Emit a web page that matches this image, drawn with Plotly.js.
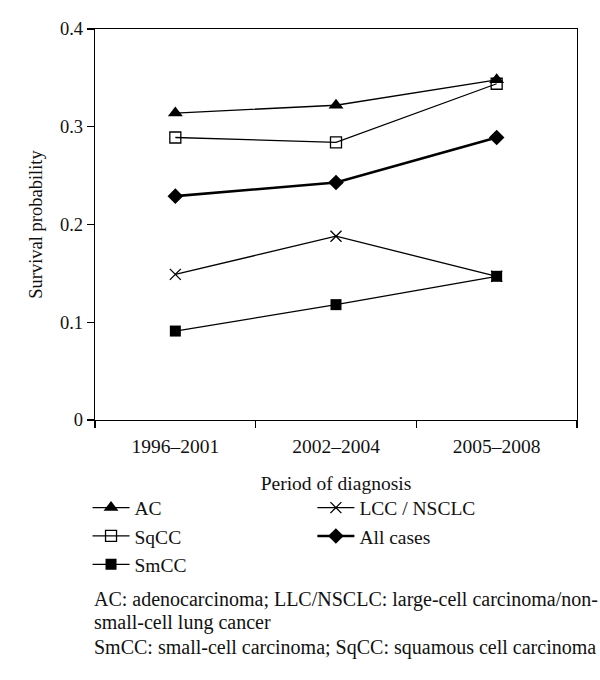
<!DOCTYPE html>
<html>
<head>
<meta charset="utf-8">
<script src="https://cdn.plot.ly/plotly-3.0.1.min.js"></script>
<style>html,body{margin:0;padding:0;background:#fff;}#chart{width:600px;height:680px;}</style>
</head>
<body>
<div id="chart"></div>
<script>
var periods = ["1996\u20132001", "2002\u20132004", "2005\u20132008"];
var acValues = [0.314, 0.322, 0.348];
var sqccValues = [0.289, 0.284, 0.344];
var smccValues = [0.091, 0.118, 0.147];
var lccValues = [0.149, 0.188, 0.147];
var allValues = [0.229, 0.243, 0.289];
var yTickVals = [0, 0.1, 0.2, 0.3, 0.4];
var yTickText = ["0", "0.1", "0.2", "0.3", "0.4"];
var footnotes = [
  "AC: adenocarcinoma; LLC/NSCLC: large-cell carcinoma/non-",
  "small-cell lung cancer",
  "SmCC: small-cell carcinoma; SqCC: squamous cell carcinoma"
];

var FONT = "Liberation Serif, Times New Roman, serif";
var traces = [
  {name: "LCC / NSCLC", x: periods, y: lccValues, legend: "legend2", legendrank: 1,
   mode: "lines+markers", line: {color: "#000", width: 1.3},
   marker: {symbol: "x-thin-open", size: 11, line: {color: "#000", width: 1.3}}},
  {name: "All cases", x: periods, y: allValues, legend: "legend2", legendrank: 2,
   mode: "lines+markers", line: {color: "#000", width: 2.6},
   marker: {symbol: "diamond", size: 12, color: "#000"}},
  {name: "SmCC", x: periods, y: smccValues, legend: "legend", legendrank: 3,
   mode: "lines+markers", line: {color: "#000", width: 1.3},
   marker: {symbol: "square", size: 11, color: "#000"}},
  {name: "SqCC", x: periods, y: sqccValues, legend: "legend", legendrank: 2,
   mode: "lines+markers", line: {color: "#000", width: 1.3},
   marker: {symbol: "square-open", size: 11, color: "#000", line: {width: 1.3}}},
  {name: "AC", x: periods, y: acValues, legend: "legend", legendrank: 1,
   mode: "lines+markers", line: {color: "#000", width: 1.3},
   marker: {symbol: "triangle-up", size: 13, color: "#000"}}
];

var annotations = footnotes.map(function (t, i) {
  return {text: t, xref: "paper", yref: "paper", x: -0.006, y: [-0.46, -0.519, -0.583][i],
          xanchor: "left", yanchor: "middle", showarrow: false,
          font: {family: FONT, size: 20, color: "#111"}};
});

var layout = {
  width: 600, height: 680,
  margin: {l: 95, r: 23, t: 29, b: 260},
  paper_bgcolor: "#fff", plot_bgcolor: "#fff",
  font: {family: FONT, size: 19, color: "#111"},
  showlegend: true,
  xaxis: {
    type: "category", range: [-0.5, 2.5], tickson: "boundaries",
    ticks: "outside", ticklen: 7, tickwidth: 1.3, tickcolor: "#000",
    showline: true, linecolor: "#000", linewidth: 1.3, mirror: true,
    showgrid: false, zeroline: false, ticklabelstandoff: 8,
    tickfont: {family: FONT, size: 19.5, color: "#111"},
    title: {text: "Period of diagnosis", font: {family: FONT, size: 19.5, color: "#111"}, standoff: 20}
  },
  yaxis: {
    range: [0, 0.4], tickvals: yTickVals, ticktext: yTickText,
    ticks: "outside", ticklen: 7, tickwidth: 1.3, tickcolor: "#000",
    showline: true, linecolor: "#000", linewidth: 1.3, mirror: true,
    showgrid: false, zeroline: false,
    tickfont: {family: FONT, size: 18.5, color: "#111"},
    title: {text: "Survival probability", font: {family: FONT, size: 18.5, color: "#111"}, standoff: 12}
  },
  legend: {x: -0.0155, y: -0.175, xanchor: "left", yanchor: "top", bgcolor: "rgba(0,0,0,0)",
           font: {family: FONT, size: 19.5, color: "#111"}, tracegroupgap: 0, itemwidth: 37},
  legend2: {x: 0.451, y: -0.175, xanchor: "left", yanchor: "top", bgcolor: "rgba(0,0,0,0)",
            font: {family: FONT, size: 19.5, color: "#111"}, tracegroupgap: 0, itemwidth: 37},
  annotations: annotations
};

Plotly.newPlot("chart", traces, layout, {displayModeBar: false, staticPlot: true});
</script>
</body>
</html>
